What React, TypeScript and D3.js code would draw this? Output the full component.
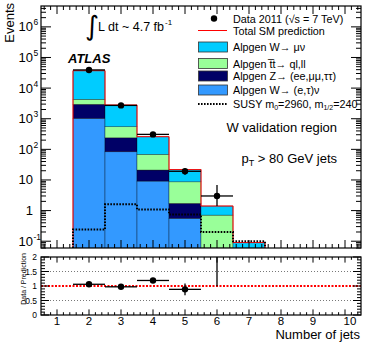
import React from 'react'
import * as d3 from 'd3'

// bins = number of jets (1..10)
const bins = [1, 2, 3, 4, 5, 6, 7, 8, 9, 10]
// stacked backgrounds, bottom to top
const wEtauNu = [0, 1030, 83.5, 9.2, 0.56, 0.02, 0, 0, 0, 0]
const zLL = [0, 1930, 155, 11.9, 1.16, 0.01, 0, 0, 0, 0]
const ttbar = [0, 1340, 310, 47.6, 7.0, 0.68, 0, 0, 0, 0]
const wMuNu = [0, 32700, 2250, 190, 13, 0.7, 0.09, 0, 0, 0]
const susy = [0, 0.24, 1.6, 1.09, 0.75, 0.2, 0.1, 0, 0, 0]
const data = [null, 39200, 2720, 308, 19.2, 3, null, null, null, null]
const dataErrLo = [0, 198, 52, 17.5, 4.4, 1.6, 0, 0, 0, 0]
const dataErrHi = [0, 198, 52, 17.5, 4.4, 3.8, 0, 0, 0, 0]

const yTickExp = [-1, 0, 1, 2, 3, 4, 5, 6]
const ratioTicks = [0, 0.5, 1, 1.5, 2]
const ratioTickLabels = ['0', '0.5', '1', '1.5', '2']

const stack = [
  { name: 'Alpgen W\u2192 (e,\u03c4)\u03bd', vals: wEtauNu, color: '#3399ff' },
  { name: 'Alpgen Z\u2192 (ee,\u03bc\u03bc,\u03c4\u03c4)', vals: zLL, color: '#000066' },
  { name: 'Alpgen t\u0305t\u2192 ql,ll', vals: ttbar, color: '#99ff99' },
  { name: 'Alpgen W\u2192 \u03bc\u03bd', vals: wMuNu, color: '#00ccff' },
]

const font = 'Liberation Sans, Arial, Helvetica, sans-serif'

const App = () => {
  const W = 374
  const H = 346
  const x = d3.scaleLinear().domain([0.5, 10.5]).range([41, 361])
  const yMin = 0.06
  const y = d3.scaleLog().domain([yMin, 4.8e6]).range([248, 6])
  const r = d3.scaleLinear().domain([0, 2]).range([315, 257])

  const totals = bins.map((_, i) => stack.reduce((s, c) => s + c.vals[i], 0))
  const yc = (v) => y(Math.max(v, yMin * 0.5))

  // stacked rects
  const rects = []
  bins.forEach((b, i) => {
    let cum = 0
    stack.forEach((c, k) => {
      const v = c.vals[i]
      const lo = cum
      const hi = cum + v
      cum = hi
      if (v <= 0 || hi <= yMin) return
      const yTop = y(hi)
      const yBot = lo > yMin ? y(lo) : y(yMin)
      rects.push(
        <rect key={`s${i}-${k}`} x={x(b - 0.5)} y={yTop} width={x(b + 0.5) - x(b - 0.5)}
          height={yBot - yTop} fill={c.color} stroke="rgba(0,0,0,0.55)" strokeWidth={0.6} />
      )
    })
  })

  // step path helper over non-zero bins
  const stepPath = (vals) => {
    const idx = bins.map((_, i) => i).filter((i) => vals[i] > 0)
    const first = idx[0]
    const last = idx[idx.length - 1]
    let d = `M${x(bins[first] - 0.5)},${y(yMin)}`
    for (let i = first; i <= last; i++) {
      d += `L${x(bins[i] - 0.5)},${yc(vals[i])}L${x(bins[i] + 0.5)},${yc(vals[i])}`
    }
    d += `L${x(bins[last] + 0.5)},${y(yMin)}`
    return d
  }

  // log ticks
  const logTicks = []
  for (let e = -2; e <= 6; e++) {
    for (let m = 1; m <= 9; m++) {
      const v = m * Math.pow(10, e)
      if (v < yMin || v > 4.8e6) continue
      logTicks.push({ v, major: m === 1 })
    }
  }
  const xMinor = d3.range(0.6, 10.45, 0.2)
  const rMinor = d3.range(0, 2.001, 0.1)

  return (
    <div style={{ position: 'absolute', left: 0, top: 0 }}>
      <svg width={W} height={H} style={{ display: 'block', background: '#fff' }} fontFamily={font}>
        <defs>
          <clipPath id="mainClip">
            <rect x={41} y={6} width={320} height={242} />
          </clipPath>
          <clipPath id="ratioClip">
            <rect x={41} y={257} width={320} height={58} />
          </clipPath>
        </defs>

        {/* main pad */}
        <g clipPath="url(#mainClip)">
          {rects}
          <path d={stepPath(totals)} fill="none" stroke="#ff0000" strokeWidth={1} />
          <path d={stepPath(susy)} fill="none" stroke="#000" strokeWidth={2} strokeDasharray="1.6 1.4" />
          {bins.map((b, i) => {
            const v = data[i]
            if (v == null) return null
            return (
              <g key={`d${i}`} stroke="#000" strokeWidth={1.3}>
                <line x1={x(b - 0.5)} x2={x(b + 0.5)} y1={y(v)} y2={y(v)} />
                <line x1={x(b)} x2={x(b)} y1={y(v + dataErrHi[i])} y2={y(v - dataErrLo[i])} />
                <circle cx={x(b)} cy={y(v)} r={3.2} fill="#000" stroke="none" />
              </g>
            )
          })}
        </g>

        {/* main frame + ticks */}
        <rect x={41} y={6} width={320} height={242} fill="none" stroke="#000" strokeWidth={1.2} />
        {logTicks.map((t, i) => {
          const len = t.major ? 10 : 5
          return (
            <g key={`lt${i}`} stroke="#000" strokeWidth={1}>
              <line x1={41} x2={41 + len} y1={y(t.v)} y2={y(t.v)} />
              <line x1={361} x2={361 - len} y1={y(t.v)} y2={y(t.v)} />
            </g>
          )
        })}
        {xMinor.map((v, i) => {
          const major = Math.abs(v - Math.round(v)) < 0.01
          const len = major ? 8 : 4
          return (
            <g key={`xt${i}`} stroke="#000" strokeWidth={1}>
              <line x1={x(v)} x2={x(v)} y1={6} y2={6 + len} />
              <line x1={x(v)} x2={x(v)} y1={248} y2={248 - len} />
              <line x1={x(v)} x2={x(v)} y1={257} y2={257 + len * 0.7} />
              <line x1={x(v)} x2={x(v)} y1={315} y2={315 - len * 0.7} />
            </g>
          )
        })}
        {yTickExp.map((e) => {
          const yy = y(Math.pow(10, e)) + 4.5
          if (e === 0) return <text key={`yl${e}`} x={33} y={yy} fontSize={13} textAnchor="end">1</text>
          if (e === 1) return <text key={`yl${e}`} x={33} y={yy} fontSize={13} textAnchor="end">10</text>
          return (
            <g key={`yl${e}`}>
              <text x={33} y={yy} fontSize={13} textAnchor="end">10</text>
              <text x={33.5} y={yy - 6} fontSize={8.5}>{e < 0 ? '-1' : e}</text>
            </g>
          )
        })}
        <text transform="translate(14,3) rotate(-90)" fontSize={13} textAnchor="end">Events</text>

        {/* annotations */}
        <text x={85} y={31} fontSize={12.5}>
          <tspan fontSize={27} dy={4} fontFamily="DejaVu Sans, sans-serif">{'\u222b'}</tspan>
          <tspan dy={-4} dx={-1}>L dt ~ 4.7 fb</tspan>
          <tspan fontSize={8} dx={1} dy={-6}>-1</tspan>
        </text>
        <text x={68} y={63} fontSize={13} fontWeight="bold" fontStyle="italic">ATLAS</text>
        <text x={337} y={132} fontSize={13} textAnchor="end">W validation region</text>
        <text x={337} y={163} fontSize={13} textAnchor="end">
          p<tspan fontSize={9} dy={3}>T</tspan><tspan dy={-3}> &gt; 80 GeV jets</tspan>
        </text>

        {/* legend */}
        <g fontSize={10.8}>
          <circle cx={214} cy={18.5} r={3.2} fill="#000" />
          <text x={233} y={22.5}>Data 2011 (<tspan>{'\u221a'}</tspan>s = 7 TeV)</text>
          <line x1={198} x2={227} y1={30.5} y2={30.5} stroke="#ff0000" strokeWidth={1} />
          <text x={233} y={34.5}>Total SM prediction</text>
          {[3, 2, 1, 0].map((k, j) => {
            const cy = [47, 63.5, 76, 90][j]
            return (
              <g key={`lg${k}`}>
                <rect x={198.5} y={cy - 5} width={29} height={10} fill={stack[k].color} stroke="#333" strokeWidth={0.8} />
                <text x={233} y={cy + 4}>{stack[k].name}</text>
              </g>
            )
          })}
          <line x1={198} x2={227} y1={104} y2={104} stroke="#000" strokeWidth={2} strokeDasharray="1.6 1.4" />
          <text x={233} y={108}>SUSY m<tspan fontSize={7} dy={2}>0</tspan><tspan dy={-2}>=2960, m</tspan><tspan fontSize={7} dy={2}>1/2</tspan><tspan dy={-2}>=240</tspan></text>
        </g>

        {/* ratio pad */}
        {[0.5, 1.5].map((v) => (
          <line key={`g${v}`} x1={41} x2={361} y1={r(v)} y2={r(v)} stroke="#555" strokeWidth={0.8} strokeDasharray="1 2" />
        ))}
        <line x1={41} x2={361} y1={r(1)} y2={r(1)} stroke="#ff0000" strokeWidth={2} strokeDasharray="2 1.5" />
        <g clipPath="url(#ratioClip)">
          {bins.map((b, i) => {
            const v = data[i]
            if (v == null) return null
            const rv = v / totals[i]
            const hi = (v + dataErrHi[i]) / totals[i]
            const lo = (v - dataErrLo[i]) / totals[i]
            if (rv > 2) {
              return <line key={`r${i}`} x1={x(b)} x2={x(b)} y1={r(lo)} y2={r(2)} stroke="#000" strokeWidth={1.3} />
            }
            return (
              <g key={`r${i}`} stroke="#000" strokeWidth={1.3}>
                <line x1={x(b - 0.5)} x2={x(b + 0.5)} y1={r(rv)} y2={r(rv)} />
                <line x1={x(b)} x2={x(b)} y1={r(hi)} y2={r(lo)} />
                <circle cx={x(b)} cy={r(rv)} r={3.2} fill="#000" stroke="none" />
              </g>
            )
          })}
        </g>
        <rect x={41} y={257} width={320} height={58} fill="none" stroke="#000" strokeWidth={1.2} />
        {rMinor.map((v, i) => {
          const major = Math.abs(v * 2 - Math.round(v * 2)) < 0.01
          const len = major ? 8 : 4
          return (
            <g key={`rt${i}`} stroke="#000" strokeWidth={1}>
              <line x1={41} x2={41 + len} y1={r(v)} y2={r(v)} />
              <line x1={361} x2={361 - len} y1={r(v)} y2={r(v)} />
            </g>
          )
        })}
        {ratioTicks.map((v, i) => (
          <text key={`rl${i}`} x={37} y={r(v) + 3} fontSize={8.5} textAnchor="end">{ratioTickLabels[i]}</text>
        ))}
        <text transform="translate(26,253) rotate(-90)" fontSize={7} textAnchor="end">Data / Prediction</text>
        {bins.map((b) => (
          <text key={`xl${b}`} x={x(b) + (b === 10 ? 5 : 0)} y={325} fontSize={11.5} textAnchor="middle">{b}</text>
        ))}
        <text x={360} y={339} fontSize={13} textAnchor="end">Number of jets</text>
      </svg>
    </div>
  )
}

export default App
